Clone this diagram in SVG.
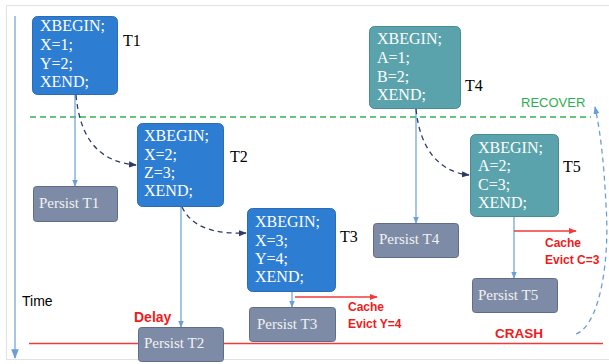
<svg xmlns="http://www.w3.org/2000/svg" width="609" height="364" viewBox="0 0 609 364">
<defs>
<style>
.frame{fill:#fff;stroke:#e2e2e2;stroke-width:1}
.tx{fill:#2d7dd2;stroke:#2a6cb8;stroke-width:1}
.tx2{fill:#5aa3ac;stroke:#4a8b94;stroke-width:1}
.ps{fill:#7d8ba7;stroke:#5f6d88;stroke-width:1}
.bt{font-family:"Liberation Serif","Times New Roman",serif;font-size:16px;fill:#fff}
.pt{font-family:"Liberation Serif","Times New Roman",serif;font-size:15px;fill:#f2f2f2}
.lbl{font-family:"Liberation Serif","Times New Roman",serif;font-size:16px;fill:#000}
.red{font-family:"Liberation Sans",Arial,sans-serif;font-weight:bold;fill:#ee1c1c}
.blue{stroke:#6a9fd8;stroke-width:1.2;fill:none}
.navy{stroke:#2b3a68;stroke-width:1.3;fill:none;stroke-dasharray:5 4}
.redl{stroke:#f23a3a;stroke-width:1.3;fill:none}
</style>
<marker id="ab" viewBox="0 0 10 10" refX="9" refY="5" markerWidth="6" markerHeight="6" orient="auto"><path d="M0,1 L10,5 L0,9 z" fill="#6a9fd8"/></marker>
<marker id="an" viewBox="0 0 10 10" refX="9" refY="5" markerWidth="6" markerHeight="6" orient="auto"><path d="M0,1 L10,5 L0,9 z" fill="#2b3a68"/></marker>
<marker id="ar" viewBox="0 0 10 10" refX="9" refY="5" markerWidth="6" markerHeight="6" orient="auto"><path d="M0,1 L10,5 L0,9 z" fill="#f23a3a"/></marker>
<marker id="at" viewBox="0 0 10 10" refX="9" refY="5" markerWidth="8" markerHeight="8" orient="auto"><path d="M0,1 L10,5 L0,9 z" fill="#6a9fd8"/></marker>
</defs>
<rect class="frame" x="6.5" y="5.5" width="610" height="354"/>

<g id="lines">
<line x1="29" y1="343.5" x2="603" y2="343.5" class="redl"/>
<line x1="30" y1="117" x2="591" y2="117" stroke="#33b556" stroke-width="1.5" stroke-dasharray="6 4"/>
</g>

<g id="connectors">
<line x1="15" y1="16" x2="15" y2="358" class="blue" marker-end="url(#at)"/>
<line x1="75" y1="95" x2="75" y2="186" class="blue" marker-end="url(#ab)"/>
<line x1="181" y1="207" x2="181" y2="327" class="blue" marker-end="url(#ab)"/>
<line x1="292" y1="292" x2="292" y2="307" class="blue" marker-end="url(#ab)"/>
<line x1="416" y1="109" x2="416" y2="223" class="blue" marker-end="url(#ab)"/>
<line x1="514" y1="217" x2="514" y2="278" class="blue" marker-end="url(#ab)"/>
<path d="M76,95 C80,140 100,162 136,165" class="navy" marker-end="url(#an)"/>
<path d="M182,207 C192,228 215,234 246,233" class="navy" marker-end="url(#an)"/>
<path d="M416,109 C420,150 440,172 469,175" class="navy" marker-end="url(#an)"/>
<line x1="295" y1="297" x2="377" y2="297" class="redl" marker-end="url(#ar)"/>
<line x1="514" y1="231" x2="576" y2="231" class="redl" marker-end="url(#ar)"/>
<path d="M576,334 C600,325 610,260 606,205 C604,165 601,135 595,107" stroke="#6a9fd8" stroke-width="1.3" fill="none" stroke-dasharray="5 4" marker-end="url(#ab)"/>
</g>

<g id="T1">
<rect class="tx" x="32.5" y="16.5" width="85" height="78" rx="5"/>
<text class="bt" x="40" y="31">XBEGIN;</text>
<text class="bt" x="40" y="50">X=1;</text>
<text class="bt" x="40" y="69">Y=2;</text>
<text class="bt" x="40" y="87">XEND;</text>
<text class="lbl" x="123" y="46">T1</text>
</g>
<g id="T2">
<rect class="tx" x="137.5" y="123.5" width="86" height="83" rx="5"/>
<text class="bt" x="144" y="141">XBEGIN;</text>
<text class="bt" x="144" y="160">X=2;</text>
<text class="bt" x="144" y="178">Z=3;</text>
<text class="bt" x="144" y="196">XEND;</text>
<text class="lbl" x="230" y="162">T2</text>
</g>
<g id="T3">
<rect class="tx" x="247.5" y="208.5" width="88" height="83" rx="5"/>
<text class="bt" x="255" y="227">XBEGIN;</text>
<text class="bt" x="255" y="246">X=3;</text>
<text class="bt" x="255" y="264">Y=4;</text>
<text class="bt" x="255" y="282">XEND;</text>
<text class="lbl" x="340" y="242">T3</text>
</g>
<g id="T4">
<rect class="tx2" x="369.5" y="26.5" width="91" height="82" rx="5"/>
<text class="bt" x="377" y="44">XBEGIN;</text>
<text class="bt" x="377" y="63">A=1;</text>
<text class="bt" x="377" y="82">B=2;</text>
<text class="bt" x="377" y="100">XEND;</text>
<text class="lbl" x="465" y="91">T4</text>
</g>
<g id="T5">
<rect class="tx2" x="470.5" y="134.5" width="88" height="82" rx="5"/>
<text class="bt" x="478" y="153">XBEGIN;</text>
<text class="bt" x="478" y="171">A=2;</text>
<text class="bt" x="478" y="190">C=3;</text>
<text class="bt" x="478" y="208">XEND;</text>
<text class="lbl" x="563" y="172">T5</text>
</g>

<g id="P1">
<rect class="ps" x="33.5" y="186.5" width="84" height="35" rx="3"/>
<text class="pt" x="39" y="208">Persist T1</text>
</g>
<g id="P2">
<rect class="ps" x="138.5" y="327.5" width="85" height="34" rx="3"/>
<text class="pt" x="144" y="348">Persist T2</text>
</g>
<g id="P3">
<rect class="ps" x="249.5" y="307.5" width="86" height="34" rx="3"/>
<text class="pt" x="257" y="329">Persist T3</text>
</g>
<g id="P4">
<rect class="ps" x="373.5" y="223.5" width="85" height="34" rx="3"/>
<text class="pt" x="379" y="244">Persist T4</text>
</g>
<g id="P5">
<rect class="ps" x="472.5" y="278.5" width="85" height="34" rx="3"/>
<text class="pt" x="478" y="300">Persist T5</text>
</g>

<g id="labels">
<text x="22" y="306" font-family="Liberation Sans,Arial,sans-serif" font-size="14" fill="#000">Time</text>
<text class="red" x="134" y="322" font-size="14">Delay</text>
<text class="red" x="348" y="311" font-size="12">Cache</text>
<text class="red" x="348" y="328" font-size="12">Evict Y=4</text>
<text class="red" x="545" y="247" font-size="12">Cache</text>
<text class="red" x="545" y="264" font-size="12">Evict C=3</text>
<text class="red" x="495" y="338" font-size="13.5">CRASH</text>
<text x="521" y="107" font-family="Liberation Sans,Arial,sans-serif" font-size="13" fill="#2bb04f">RECOVER</text>
</g>
</svg>
